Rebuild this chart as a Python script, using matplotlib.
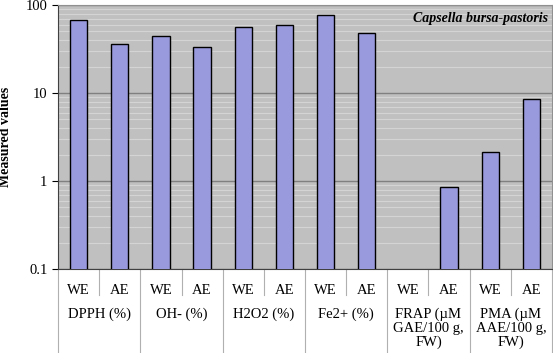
import numpy as np
import matplotlib.pyplot as plt
from matplotlib.ticker import FixedLocator, NullFormatter

groups = ["DPPH (%)", "OH- (%)", "H2O2 (%)", "Fe2+ (%)",
          "FRAP (\u00b5M\nGAE/100 g,\nFW)", "PMA (\u00b5M\nAAE/100 g,\nFW)"]
extracts = ["WE", "AE"]
values = [67, 36, 45, 33, 56, 60, 77, 48, np.nan, 0.86, 2.15, 8.55]

plt.rcParams['font.family'] = ['Liberation Serif', 'DejaVu Serif']

fig = plt.figure(figsize=(5.53, 3.53), dpi=100)
ax = fig.add_axes([58/553, 1-269/353, 494/553, 264/353])
ax.set_facecolor('#c0c0c0')

x = np.arange(len(values))
ax.bar(x, values, width=0.42, color='#9999dd', edgecolor='black', linewidth=1, zorder=3)

ax.set_yscale('log')
ax.set_ylim(0.1, 100)
ax.set_xlim(-0.5, len(values) - 0.5)
ax.yaxis.set_major_locator(FixedLocator([0.1, 1, 10, 100]))
ax.set_yticklabels(["0.1", "1", "10", "100"])
minors = [m * 10.0**e for e in range(-1, 2) for m in range(2, 10)]
ax.yaxis.set_minor_locator(FixedLocator(minors))
ax.yaxis.set_minor_formatter(NullFormatter())
ax.grid(True, which='major', axis='y', color='#808080', linewidth=1, zorder=1)
ax.grid(True, which='minor', axis='y', color='#d4d4d4', linewidth=0.8, zorder=1)
ax.tick_params(axis='y', which='major', length=4, labelsize=10.5, direction='out')
ax.tick_params(axis='y', which='minor', length=0)
ax.set_xticks([])
for s in ['top', 'right']:
    ax.spines[s].set_color('#909090')
for s in ['left', 'bottom']:
    ax.spines[s].set_color('#404040')

ax.set_ylabel("Measured values", fontweight='bold', fontsize=10, labelpad=10)

ax.text(0.992, 0.975, "Capsella bursa-pastoris", transform=ax.transAxes,
        ha='right', va='top', style='italic', fontweight='bold', fontsize=10)

trans = ax.get_xaxis_transform()
bottom_y = -84 / 264
for i, v in enumerate(values):
    ax.text(i, -0.082, extracts[i % 2], transform=trans, ha='center', va='center', fontsize=10.5)
for g, name in enumerate(groups):
    ax.text(2 * g + 0.5, -0.145, name, transform=trans, ha='center', va='top',
            fontsize=10.5, linespacing=1.1)
    ax.plot([2 * g + 0.5, 2 * g + 0.5], [0, -26 / 264], transform=trans,
            color='#b0b0b0', linewidth=0.8, clip_on=False)
for g in range(len(groups) + 1):
    ax.plot([2 * g - 0.5, 2 * g - 0.5], [0, bottom_y], transform=trans,
            color='#b0b0b0', linewidth=0.8, clip_on=False)

fig.savefig("out.png", dpi=100)
